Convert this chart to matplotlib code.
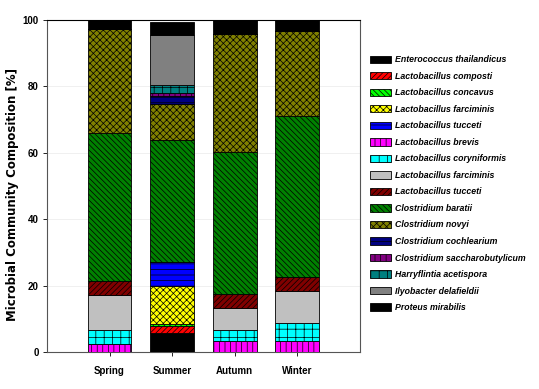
import numpy as np
import matplotlib
matplotlib.use('Agg')
import matplotlib.pyplot as plt

plt.rcParams['font.family'] = ['Liberation Sans', 'DejaVu Sans']
plt.rcParams['hatch.linewidth'] = 0.5

seasons = ['Spring', 'Summer', 'Autumn', 'Winter']

# relative abundance [%] per season, stacked bottom -> top
enterococcus_thailandicus = [0, 5.7, 0, 0]
lactobacillus_composti = [0, 2.0, 0, 0]
lactobacillus_concavus = [0, 0.8, 0, 0]
lactobacillus_farciminis_1 = [0, 11.4, 0, 0]
lactobacillus_tucceti_1 = [0, 7.2, 0, 0]
lactobacillus_brevis = [2.5, 0, 3.3, 3.3]
lactobacillus_coryniformis = [4.2, 0, 3.4, 5.4]
lactobacillus_farciminis_2 = [10.4, 0, 6.7, 9.6]
lactobacillus_tucceti_2 = [4.2, 0, 4.2, 4.3]
clostridium_baratii = [44.5, 36.7, 42.5, 48.5]
clostridium_novyi = [31.5, 10.9, 35.6, 25.4]
clostridium_cochlearium = [0, 2.4, 0, 0]
clostridium_saccharobutylicum = [0, 0.8, 0, 0]
harryflintia_acetispora = [0, 2.5, 0, 0]
ilyobacter_delafieldii = [0, 15.1, 0, 0]
proteus_mirabilis = [2.7, 3.7, 4.3, 3.5]

series = [
    ('Enterococcus thailandicus', enterococcus_thailandicus, '#000000', ''),
    ('Lactobacillus composti', lactobacillus_composti, '#ff0000', '//////'),
    ('Lactobacillus concavus', lactobacillus_concavus, '#00ff00', '\\\\\\\\\\\\'),
    ('Lactobacillus farciminis', lactobacillus_farciminis_1, '#ffff00', 'xxxxx'),
    ('Lactobacillus tucceti', lactobacillus_tucceti_1, '#0000ff', '---'),
    ('Lactobacillus brevis', lactobacillus_brevis, '#ff00ff', '|||'),
    ('Lactobacillus coryniformis', lactobacillus_coryniformis, '#00ffff', '++'),
    ('Lactobacillus farciminis', lactobacillus_farciminis_2, '#c0c0c0', ''),
    ('Lactobacillus tucceti', lactobacillus_tucceti_2, '#800000', '//////'),
    ('Clostridium baratii', clostridium_baratii, '#008000', '\\\\\\\\\\\\'),
    ('Clostridium novyi', clostridium_novyi, '#808000', 'xxxxx'),
    ('Clostridium cochlearium', clostridium_cochlearium, '#000080', '---'),
    ('Clostridium saccharobutylicum', clostridium_saccharobutylicum, '#800080', '|||'),
    ('Harryflintia acetispora', harryflintia_acetispora, '#008080', '++'),
    ('Ilyobacter delafieldii', ilyobacter_delafieldii, '#808080', ''),
    ('Proteus mirabilis', proteus_mirabilis, '#000000', ''),
]

fig = plt.figure(figsize=(5.39, 3.89), dpi=100)
ax = fig.add_axes([0.087, 0.095, 0.581, 0.854])

x = np.arange(len(seasons))
bottom = np.zeros(len(seasons))
for name, vals, color, hatch in series:
    vals = np.array(vals, dtype=float)
    ax.bar(x, vals, 0.7, bottom=bottom, color=color, hatch=hatch,
           edgecolor='black', linewidth=0.6, label=name, zorder=3)
    bottom += vals

ax.set_xlim(-1.0, 4.0)
ax.set_ylim(0, 100)
ax.set_yticks([0, 20, 40, 60, 80, 100])
ax.set_xticks(x)
ax.set_xticklabels(seasons, fontsize=7, fontweight='bold')
for lab in ax.get_yticklabels():
    lab.set_fontsize(7)
    lab.set_fontweight('bold')
ax.tick_params(length=3, width=0.6, pad=3)
ax.tick_params(axis='x', pad=7)
ax.yaxis.grid(True, color='#eeeeee', linewidth=0.6, zorder=0)
for s in ax.spines.values():
    s.set_linewidth(0.8)
ax.spines['left'].set_color('#555555')
ax.spines['right'].set_color('#555555')
ax.spines['bottom'].set_color('#555555')

ax.set_ylabel('Microbial Community Composition [%]', fontsize=8.5,
              fontweight='bold', family='DejaVu Sans')
ax.yaxis.set_label_coords(-0.089, 0.473)

leg = fig.legend(loc='upper left', bbox_to_anchor=(0.6865, 0.858), frameon=False,
                 prop={'size': 6.3, 'weight': 'bold', 'style': 'italic'},
                 handlelength=2.4, handleheight=0.92, handletextpad=0.46,
                 labelspacing=0.86, borderpad=0, borderaxespad=0)

fig.savefig('out.png', dpi=100)
